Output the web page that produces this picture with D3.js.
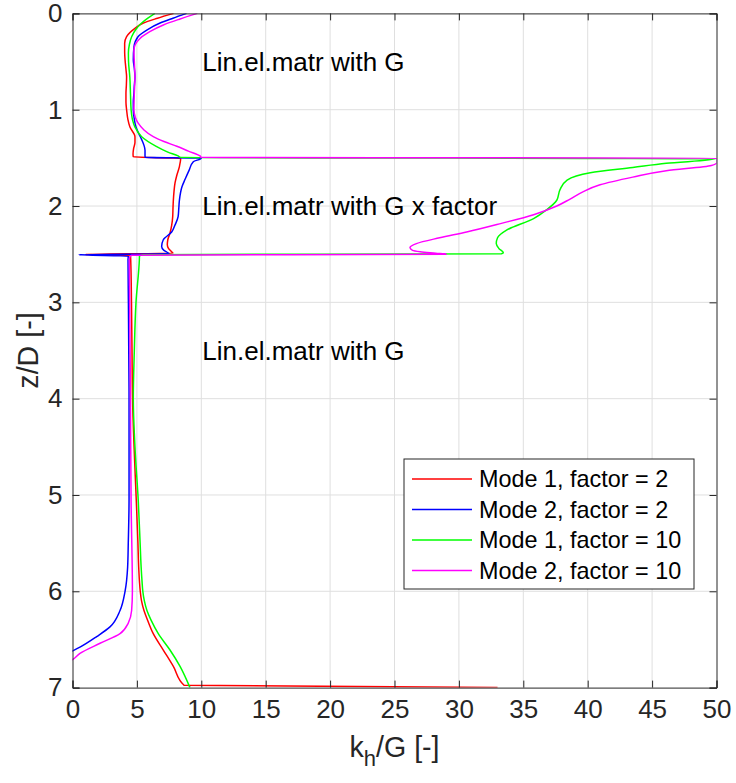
<html>
  <head>
    <meta charset="utf-8">
    <style>
      body { margin: 0; background: #fff; }
      .axis text {
        font-family: "Liberation Sans", Arial, sans-serif;
        font-size: 26px;
        fill: #262626;
      }
      .axis path, .axis line {
        stroke: #262626;
      }
      .grid line {
        stroke: #dfdfdf;
        stroke-width: 1;
      }
      .label {
        font-family: "Liberation Sans", Arial, sans-serif;
        font-size: 28.6px;
        fill: #262626;
      }
      .note {
        font-family: "Liberation Sans", Arial, sans-serif;
        font-size: 26px;
        fill: #000;
      }
      .legend text {
        font-family: "Liberation Sans", Arial, sans-serif;
        font-size: 23.4px;
        fill: #000;
      }
      .curve {
        fill: none;
        stroke-width: 1.5;
      }
    </style>
  </head>
<body>
  <svg width="736" height="783"></svg>
  <script src="https://d3js.org/d3.v7.min.js"></script>
  <script>
    // depth z/D and stiffness kh/G pairs, [z, k]
    var mode1f2 = [
      [0.00, 7.85], [0.05, 6.6], [0.10, 5.5], [0.155, 4.85], [0.24, 4.2], [0.31, 4.05],
      [0.40, 4.05], [0.48, 4.08], [0.58, 4.15], [0.66, 4.2], [0.75, 4.18], [0.83, 4.15],
      [0.92, 4.15], [1.00, 4.2], [1.10, 4.3], [1.18, 4.46], [1.28, 4.85], [1.34, 4.85],
      [1.40, 4.75], [1.46, 4.7], [1.49, 4.72],
      [1.505, 8.4], [1.59, 8.3], [1.68, 8.1], [1.76, 7.96], [1.85, 7.88], [1.94, 7.83],
      [2.03, 7.8], [2.11, 7.78], [2.20, 7.7], [2.28, 7.57], [2.35, 7.4], [2.40, 7.36],
      [2.44, 7.45], [2.475, 7.7], [2.49, 7.8],
      [2.503, 1.0], [2.515, 4.5], [2.56, 4.52], [3.0, 4.58], [3.5, 4.62], [4.0, 4.66],
      [4.5, 4.78], [5.05, 4.95], [5.5, 5.08], [5.75, 5.14], [5.9, 5.2], [6.0, 5.26],
      [6.1, 5.36], [6.2, 5.55], [6.3, 5.83], [6.44, 6.27], [6.61, 7.05], [6.78, 7.83],
      [6.975, 8.66], [7.0, 33.0]
    ];
    var mode2f2 = [
      [0.00, 8.86], [0.05, 7.8], [0.10, 6.8], [0.17, 5.8], [0.24, 5.1], [0.35, 4.77],
      [0.48, 4.72], [0.57, 4.8], [0.66, 4.85], [0.75, 4.8], [0.83, 4.77], [0.92, 4.72],
      [1.00, 4.72], [1.10, 4.8], [1.18, 4.93], [1.25, 5.15], [1.31, 5.37], [1.37, 5.55],
      [1.42, 5.63], [1.48, 5.63], [1.495, 5.65],
      [1.503, 10.0], [1.54, 9.38], [1.63, 9.05], [1.72, 8.75], [1.80, 8.5], [1.94, 8.3],
      [2.03, 8.25], [2.11, 8.2], [2.20, 7.95], [2.27, 7.7], [2.35, 7.05], [2.42, 6.92],
      [2.46, 7.1], [2.485, 7.4], [2.495, 7.5],
      [2.505, 0.5], [2.52, 4.33], [2.56, 4.31], [3.0, 4.34], [4.0, 4.39], [5.05, 4.39],
      [5.5, 4.33], [5.75, 4.28], [6.0, 4.08], [6.2, 3.69], [6.37, 2.91], [6.47, 1.88],
      [6.58, 0.58], [6.62, 0.0], [6.66, -0.6]
    ];
    var mode1f10 = [
      [0.00, 6.4], [0.05, 5.85], [0.10, 5.37], [0.17, 4.9], [0.24, 4.6], [0.32, 4.42],
      [0.41, 4.34], [0.50, 4.35], [0.66, 4.45], [0.83, 4.5], [1.00, 4.55], [1.10, 4.65],
      [1.18, 4.85], [1.28, 5.37], [1.38, 6.5], [1.44, 7.4], [1.48, 8.2], [1.495, 8.4],
      [1.51, 49.9], [1.557, 46.1], [1.60, 43.5], [1.654, 40.2], [1.73, 38.4], [1.83, 37.85],
      [1.94, 37.6], [2.04, 36.8], [2.13, 35.8], [2.25, 33.7], [2.33, 33.0], [2.39, 32.9],
      [2.44, 33.1], [2.485, 33.45], [2.495, 33.3],
      [2.505, 5.5], [2.52, 5.2], [2.56, 5.19], [3.0, 4.93], [3.5, 4.8], [4.0, 4.72],
      [4.5, 4.85], [5.07, 5.11], [5.5, 5.25], [5.75, 5.33], [5.9, 5.4], [6.0, 5.46],
      [6.1, 5.58], [6.2, 5.78], [6.3, 6.1], [6.44, 6.66], [6.61, 7.57], [6.78, 8.35],
      [7.0, 9.12]
    ];
    var mode2f10 = [
      [0.00, 9.69], [0.06, 8.3], [0.12, 7.05], [0.19, 6.0], [0.26, 5.24], [0.38, 4.77],
      [0.50, 4.8], [0.66, 4.85], [0.83, 4.8], [1.00, 4.77], [1.08, 4.88], [1.14, 5.1],
      [1.21, 5.55], [1.28, 6.27], [1.33, 7.1], [1.38, 8.1], [1.43, 9.0], [1.48, 9.9],
      [1.495, 10.0],
      [1.503, 50.05], [1.545, 50.05], [1.58, 49.6], [1.633, 46.1], [1.70, 43.5],
      [1.78, 40.96], [1.85, 39.66], [1.93, 38.6], [2.00, 37.6], [2.09, 35.8], [2.18, 33.3],
      [2.27, 30.6], [2.33, 28.5], [2.39, 26.7], [2.43, 26.2], [2.46, 26.4], [2.475, 27.0],
      [2.49, 28.2], [2.50, 29.0],
      [2.51, 4.6], [2.53, 4.45], [2.56, 4.41], [3.0, 4.44], [4.0, 4.5], [5.07, 4.55],
      [6.0, 4.65], [6.2, 4.59], [6.33, 4.33], [6.44, 3.69], [6.54, 2.14], [6.645, 0.58],
      [6.71, 0.0], [6.75, -0.6]
    ];

    var seriesNames = ["Mode 1, factor = 2", "Mode 2, factor = 2", "Mode 1, factor = 10", "Mode 2, factor = 10"];
    var seriesColors = ["#ff0000", "#0000ff", "#00ff00", "#ff00ff"];
    var seriesData = [mode1f2, mode2f2, mode1f10, mode2f10];

    var xTicks = [0, 5, 10, 15, 20, 25, 30, 35, 40, 45, 50];
    var yTicks = [0, 1, 2, 3, 4, 5, 6, 7];

    var notes = [
      {z: 0.5, text: "Lin.el.matr with G"},
      {z: 2.0, text: "Lin.el.matr with G x factor"},
      {z: 3.5, text: "Lin.el.matr with G"}
    ];

    var svg = d3.select("svg");
    var margin = {top: 13.4, right: 19.5, bottom: 95.4, left: 72.5};
    var width = +svg.attr("width") - margin.left - margin.right;
    var height = +svg.attr("height") - margin.top - margin.bottom;

    var x = d3.scaleLinear().domain([0, 50]).range([0, width]);
    var y = d3.scaleLinear().domain([0, 7]).range([0, height]);

    var graph = svg.append("g")
      .attr("transform", "translate(" + margin.left + "," + margin.top + ")");

    graph.append("clipPath")
      .attr("id", "plot-clip")
      .append("rect")
      .attr("width", width)
      .attr("height", height);

    // grid
    var grid = graph.append("g").attr("class", "grid");
    grid.selectAll(".gx")
      .data(xTicks.slice(1, -1))
      .enter().append("line")
      .attr("x1", function(d) { return x(d); })
      .attr("x2", function(d) { return x(d); })
      .attr("y1", 0)
      .attr("y2", height);
    grid.selectAll(".gy")
      .data(yTicks.slice(1, -1))
      .enter().append("line")
      .attr("x1", 0)
      .attr("x2", width)
      .attr("y1", function(d) { return y(d); })
      .attr("y2", function(d) { return y(d); });

    // curves
    var line = d3.line()
      .x(function(d) { return x(d[1]); })
      .y(function(d) { return y(d[0]); })
      .curve(d3.curveMonotoneY);

    graph.append("g")
      .attr("clip-path", "url(#plot-clip)")
      .selectAll(".curve")
      .data(seriesData)
      .enter().append("path")
      .attr("class", "curve")
      .attr("stroke", function(d, i) { return seriesColors[i]; })
      .attr("d", line);

    // axes, ticks pointing inward on all four sides
    graph.append("g")
      .attr("class", "axis")
      .attr("transform", "translate(0," + height + ")")
      .call(d3.axisBottom(x).tickValues(xTicks).tickSize(-7).tickPadding(12).tickFormat(d3.format("d")));
    graph.append("g")
      .attr("class", "axis")
      .call(d3.axisTop(x).tickValues(xTicks).tickSize(-7).tickFormat(""));
    graph.append("g")
      .attr("class", "axis")
      .call(d3.axisLeft(y).tickValues(yTicks).tickSize(-7).tickPadding(10).tickFormat(d3.format("d")));
    graph.append("g")
      .attr("class", "axis")
      .attr("transform", "translate(" + width + ",0)")
      .call(d3.axisRight(y).tickValues(yTicks).tickSize(-7).tickFormat(""));

    graph.selectAll(".axis .domain").attr("stroke-width", 1);

    // region notes
    graph.selectAll(".note")
      .data(notes)
      .enter().append("text")
      .attr("class", "note")
      .attr("x", x(10) + 1)
      .attr("y", function(d) { return y(d.z); })
      .attr("dy", "0.35em")
      .text(function(d) { return d.text; });

    // axis labels
    var xLabel = svg.append("text")
      .attr("class", "label")
      .attr("x", margin.left + width / 2)
      .attr("y", 757)
      .attr("text-anchor", "middle");
    xLabel.append("tspan").text("k");
    xLabel.append("tspan").attr("dy", 9).attr("font-size", "22px").text("h");
    xLabel.append("tspan").attr("dy", -9).text("/G [-]");

    svg.append("text")
      .attr("class", "label")
      .attr("transform", "translate(38," + (margin.top + height / 2) + ") rotate(-90)")
      .attr("text-anchor", "middle")
      .text("z/D [-]");

    // legend
    var legend = svg.append("g").attr("class", "legend");
    legend.append("rect")
      .attr("x", 404)
      .attr("y", 459)
      .attr("width", 290)
      .attr("height", 130)
      .attr("fill", "#fff")
      .attr("stroke", "#262626")
      .attr("stroke-width", 1);

    var entry = legend.selectAll(".entry")
      .data(seriesNames)
      .enter().append("g")
      .attr("transform", function(d, i) { return "translate(412," + (479 + i * 30.5) + ")"; });
    entry.append("line")
      .attr("x1", 0)
      .attr("x2", 60)
      .attr("stroke", function(d, i) { return seriesColors[i]; })
      .attr("stroke-width", 1.5);
    entry.append("text")
      .attr("x", 67)
      .attr("dy", "0.35em")
      .text(function(d) { return d; });
  </script>
</body>
</html>
